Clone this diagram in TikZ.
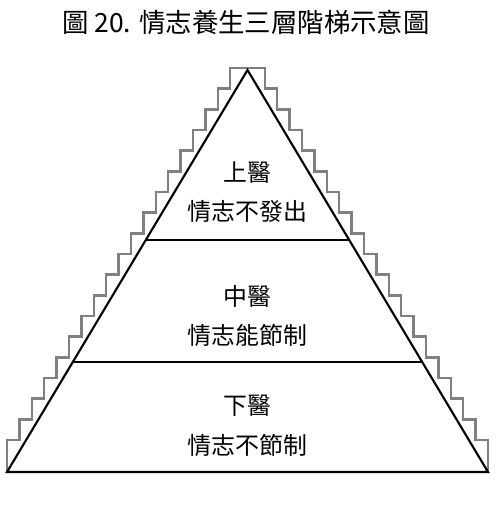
\documentclass[tikz,border=0pt]{standalone}
\usepackage{fontspec}
\setmainfont{Noto Sans CJK TC}
\usetikzlibrary{calc}
\def\tierfont{\fontsize{24}{24}\selectfont}

\begin{document}
\begin{tikzpicture}[x=1bp, y=-1bp,
	tier/.style={font=\tierfont, inner sep=0pt},
	stairs/.style={line width=0.9mm, color=black!50},
	edge/.style={line width=0.75mm, color=black}]
			%%%%% START %%%%%
			\useasboundingbox (0, 0) rectangle (500, 507);
			
			\node[font=\fontsize{26.5}{26.5}\selectfont, inner sep=0pt] (title) at (246, 22) {圖 20. 情志養生三層階梯示意圖};
			
			% staircase round the pyramid
			\draw[stairs] (7, 472) -- (7, 440)
				\foreach \k in {1,...,18} { -- ++(12.4, 0) -- ++(0, -20.67) }
				-- ++(34.6, 0)
				\foreach \k in {1,...,18} { -- ++(0, 20.67) -- ++(12.4, 0) }
				-- ++(0, 32);
			
			\coordinate (apex) at (247.5, 70);
			\coordinate (baseL) at (7, 472);
			\coordinate (baseR) at (488, 472);
			\draw[edge] (apex) -- (baseL) -- (baseR) -- cycle;
			
			\coordinate (upperL) at ($(baseL)!0.578!(apex)$);
			\coordinate (upperR) at ($(baseR)!0.578!(apex)$);
			\coordinate (middleL) at ($(baseL)!0.273!(apex)$);
			\coordinate (middleR) at ($(baseR)!0.273!(apex)$);
			\draw[edge] (upperL) -- (upperR);
			\draw[edge] (middleL) -- (middleR);
			
			\node[tier] (upper) at (247.5, 173) {上醫};
			\node[tier] (upperText) at (247.5, 212) {情志不發出};
			
			\node[tier] (middle) at (247.5, 296.5) {中醫};
			\node[tier] (middleText) at (247.5, 335) {情志能節制};
			
			\node[tier] (lower) at (247.5, 406) {下醫};
			\node[tier] (lowerText) at (247.5, 445) {情志不節制};
			
			%%%%% END %%%%%
\end{tikzpicture}
\end{document}
